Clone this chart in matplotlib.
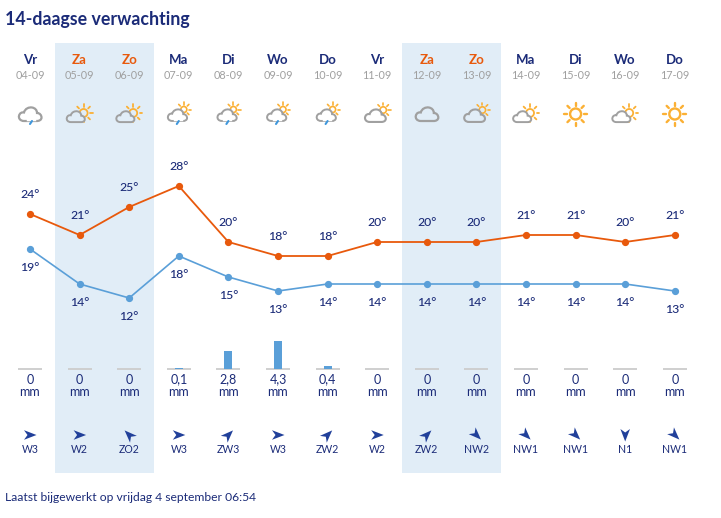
# 14-daagse verwachting - weather forecast chart
import numpy as np
import matplotlib
matplotlib.use('Agg')
import matplotlib.pyplot as plt
from matplotlib.patches import Circle, PathPatch, Polygon, Rectangle
from matplotlib.path import Path

plt.rcParams['font.family'] = ['Lato', 'DejaVu Sans']

days = ['Vr', 'Za', 'Zo', 'Ma', 'Di', 'Wo', 'Do', 'Vr', 'Za', 'Zo', 'Ma', 'Di', 'Wo', 'Do']
dates = ['04-09', '05-09', '06-09', '07-09', '08-09', '09-09', '10-09',
         '11-09', '12-09', '13-09', '14-09', '15-09', '16-09', '17-09']
high = [24, 21, 25, 28, 20, 18, 18, 20, 20, 20, 21, 21, 20, 21]
low = [19, 14, 12, 18, 15, 13, 14, 14, 14, 14, 14, 14, 14, 13]
rain = [0, 0, 0, 0.1, 2.8, 4.3, 0.4, 0, 0, 0, 0, 0, 0, 0]
wind = ['W3', 'W2', 'ZO2', 'W3', 'ZW3', 'W3', 'ZW2', 'W2', 'ZW2', 'NW2', 'NW1', 'NW1', 'N1', 'NW1']
icons = ['rain', 'sun_cloud', 'sun_cloud', 'sun_rain', 'sun_rain', 'sun_rain', 'sun_rain',
         'cloud_sun', 'cloud', 'cloud_sun', 'sun_cloud', 'sun', 'sun_cloud', 'sun']

NAVY = '#1b2b78'
ORANGE = '#e8590c'
BLUE = '#5a9fd8'
BAND = '#e1edf7'
GREY = '#a0a0a0'
SUN = '#fbb034'

W, H = 721, 518
X0, DX = 30, 49.6
xlim = (-X0 / DX, (W - X0) / DX)

# screen direction the arrow points to, per wind direction (degrees, counter clockwise)
arrow_angle = {'W': 0, 'ZW': 45, 'ZO': 135, 'NW': -45, 'N': -90}


def px(i):
    return X0 + DX * i


fig = plt.figure(figsize=(W / 100, H / 100), dpi=100)

# page layer in pixels, for bands, icons and text
page = fig.add_axes([0, 0, 1, 1], zorder=1)
page.set_xlim(0, W)
page.set_ylim(H, 0)
page.axis('off')

# temperature layer: 7 px per degree, 20 degrees at y=242
temp = fig.add_axes([0, 0, 1, 1], zorder=3)
temp.set_xlim(*xlim)
temp.set_ylim((382 - H) / 7, 382 / 7)
temp.axis('off')

# rain layer: 6.6 px per mm, baseline at y=369
bars = fig.add_axes([0, 0, 1, 1], zorder=2)
bars.set_xlim(*xlim)
bars.set_ylim((369 - H) / 6.6, 369 / 6.6)
bars.axis('off')


def draw_cloud(cx, cy, s, bg, lw=1.6):
    pts = [(-6, 7), (-10, 7), (-11.5, 4), (-11, 2), (-10.5, -1), (-8, -2), (-6, -1.5),
           (-5, -5.5), (-1, -7), (2, -6.5), (5, -6), (7, -4), (7, -1),
           (10, -1), (11.5, 1.5), (11.5, 3.5), (11.5, 6), (9, 7), (7, 7), (-6, 7)]
    codes = [Path.MOVETO] + [Path.CURVE4] * 18 + [Path.CLOSEPOLY]
    verts = [(cx + s * a, cy + s * b) for a, b in pts]
    page.add_patch(PathPatch(Path(verts, codes), fc=bg, ec=GREY, lw=lw, zorder=4))


def draw_sun(cx, cy, r, bg, lw=1.5, gap=3, ray=3):
    page.add_patch(Circle((cx, cy), r, fc=bg, ec=SUN, lw=lw, zorder=3))
    for a in np.arange(0, 360, 45):
        c, s = np.cos(np.radians(a)), np.sin(np.radians(a))
        page.plot([cx + c * (r + gap), cx + c * (r + gap + ray)],
                  [cy + s * (r + gap), cy + s * (r + gap + ray)],
                  color=SUN, lw=lw, solid_capstyle='round', zorder=3)


def draw_drop(cx, cy, bg):
    page.plot([cx - 3, cx + 3], [cy - 3, cy - 3], color=bg, lw=2.5, zorder=5)
    page.plot([cx - 1, cx + 1], [cy + 2, cy - 1], color='#3f97dc', lw=1.5,
              solid_capstyle='round', zorder=5)


def draw_icon(kind, cx, cy, bg):
    if kind == 'sun':
        draw_sun(cx, cy, 5.5, bg, 1.7)
    elif kind == 'cloud':
        draw_cloud(cx, cy, 1.0, bg)
    elif kind == 'rain':
        draw_cloud(cx, cy, 1.0, bg)
        draw_drop(cx + 1, cy + 8, bg)
    elif kind == 'sun_cloud':
        draw_sun(cx + 4, cy - 1, 4, bg, 1.3, 2.5, 2.5)
        draw_cloud(cx - 4, cy + 2.5, 0.8, bg, 1.4)
    elif kind == 'cloud_sun':
        draw_sun(cx + 6, cy - 4, 3.2, bg, 1.2, 2, 2.2)
        draw_cloud(cx - 2, cy + 1.5, 0.92, bg, 1.5)
    elif kind == 'sun_rain':
        draw_sun(cx + 5, cy - 4.5, 3, bg, 1.2, 2, 2.2)
        draw_cloud(cx - 1.5, cy + 1, 0.85, bg, 1.4)
        draw_drop(cx - 1, cy + 8, bg)


def draw_arrow(cx, cy, angle):
    shape = np.array([(6.5, 0), (-6, -4.8), (-2.5, 0), (-6, 4.8)])
    c, s = np.cos(np.radians(angle)), np.sin(np.radians(angle))
    x = cx + shape[:, 0] * c - shape[:, 1] * s
    y = cy - shape[:, 0] * s - shape[:, 1] * c
    page.add_patch(Polygon(np.column_stack([x, y]), fc='#21409a', ec='none', zorder=4))


# weekend bands
for first in (1, 8):
    page.add_patch(Rectangle((px(first) - 25, 43), 2 * DX, 430, fc=BAND, ec='none', zorder=0))

page.text(5, 19, '14-daagse verwachting', fontsize=12.8, fontweight='bold', color=NAVY,
          ha='left', va='center')
page.text(5, 497.5, 'Laatst bijgewerkt op vrijdag 4 september 06:54', fontsize=8.75, color=NAVY,
          ha='left', va='center')

for i in range(len(days)):
    x = px(i)
    weekend = days[i] in ('Za', 'Zo')
    bg = BAND if weekend else 'white'
    page.text(x, 60, days[i], fontsize=9.5, fontweight='bold', color=ORANGE if weekend else NAVY,
              ha='center', va='center')
    page.text(x, 75.5, dates[i], fontsize=7.8, color=GREY, ha='center', va='center')
    draw_icon(icons[i], x, 114, bg)

    # rain baseline and amount
    page.plot([x - 12, x + 12], [369, 369], color='#cccccc', lw=1.3,
              solid_capstyle='butt', zorder=2)
    label = '0' if rain[i] == 0 else str(rain[i]).replace('.', ',')
    page.text(x, 379.5, label, fontsize=9, color=NAVY, ha='center', va='center')
    page.text(x, 392.5, 'mm', fontsize=9, color=NAVY, ha='center', va='center')

    # wind
    direction = wind[i].rstrip('0123456789')
    draw_arrow(x, 435, arrow_angle[direction])
    page.text(x, 449.5, wind[i], fontsize=7.6, color=NAVY, ha='center', va='center')

xs = np.arange(len(days))
temp.plot(xs, high, color=ORANGE, lw=1.3, marker='o', ms=4.2)
temp.plot(xs, low, color=BLUE, lw=1.2, marker='o', ms=4.2)
for i in xs:
    temp.annotate(f'{high[i]}°', (i, high[i]), xytext=(0, 14), textcoords='offset points',
                  ha='center', va='center', fontsize=8.8, fontweight='medium', color=NAVY)
    temp.annotate(f'{low[i]}°', (i, low[i]), xytext=(0, -13), textcoords='offset points',
                  ha='center', va='center', fontsize=8.8, fontweight='medium', color=NAVY)

bars.bar(xs, rain, width=8 / DX, color=BLUE, linewidth=0)

fig.savefig('out.png', dpi=100)
